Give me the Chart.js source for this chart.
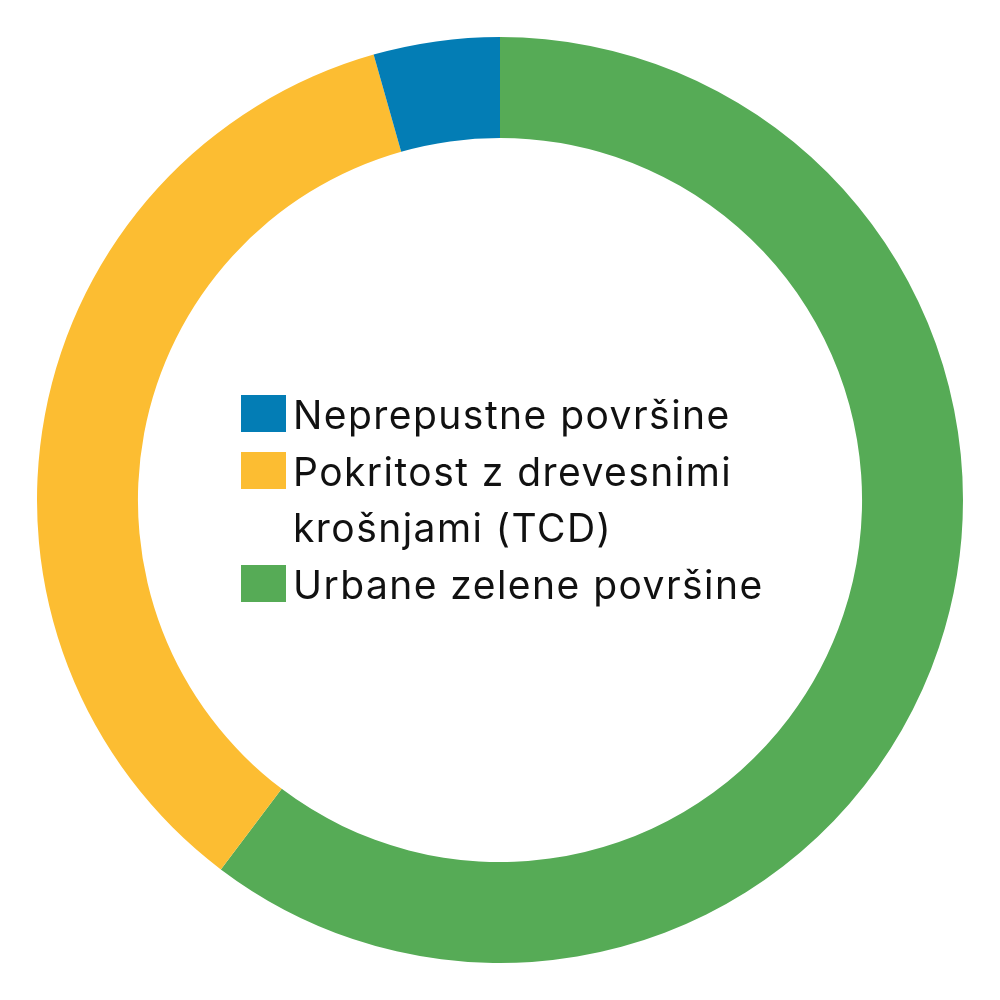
<!DOCTYPE html>
<html>
<head>
<meta charset="utf-8">
<script src="https://cdn.jsdelivr.net/npm/chart.js@4/dist/chart.umd.min.js"></script>
<style>
  html, body { margin: 0; padding: 0; background: #ffffff; }
  #wrap { position: relative; width: 1000px; height: 1000px; }
  #chart { position: absolute; left: 0; top: 0; }
  #legend {
    position: absolute; left: 241px; top: 387px; width: 560px;
    font-family: "Inter", "Open Sans", sans-serif; font-size: 39px; font-weight: 400;
    letter-spacing: 1.45px;
    color: #111111; line-height: 56.5px; margin: 0; padding: 0; list-style: none;
  }
  #legend li { position: relative; padding-left: 52px; width: 480px; }
  #legend .box { position: absolute; left: 0; top: 8px; width: 45px; height: 37px; }
</style>
</head>
<body>
<div id="wrap">
  <canvas id="chart" width="1000" height="1000"></canvas>
  <ul id="legend"></ul>
</div>
<script>
// Land-cover shares (%), listed in legend order
const categories = ["Neprepustne površine", "Pokritost z drevesnimi krošnjami (TCD)", "Urbane zelene površine"];
const shares = [4.4, 35.3, 60.3];
const colors = ["#037DB5", "#FCBD32", "#56AB56"];

// Ring runs clockwise from the top: green, then yellow, then blue
const ringLabels = categories.slice().reverse();
const ringValues = shares.slice().reverse();
const ringColors = colors.slice().reverse();

new Chart(document.getElementById("chart"), {
  type: "doughnut",
  data: {
    labels: ringLabels,
    datasets: [{
      data: ringValues,
      backgroundColor: ringColors,
      borderWidth: 0,
      hoverOffset: 0
    }]
  },
  options: {
    responsive: false,
    animation: false,
    events: [],
    cutout: "78.2%",
    rotation: 0,
    layout: { padding: 37 },
    plugins: {
      legend: { display: false },
      tooltip: { enabled: false }
    }
  }
});

// Legend in the middle of the ring
const legend = document.getElementById("legend");
categories.forEach((name, i) => {
  const li = document.createElement("li");
  const box = document.createElement("span");
  box.className = "box";
  box.style.background = colors[i];
  li.appendChild(box);
  li.appendChild(document.createTextNode(name));
  legend.appendChild(li);
});
</script>
</body>
</html>
